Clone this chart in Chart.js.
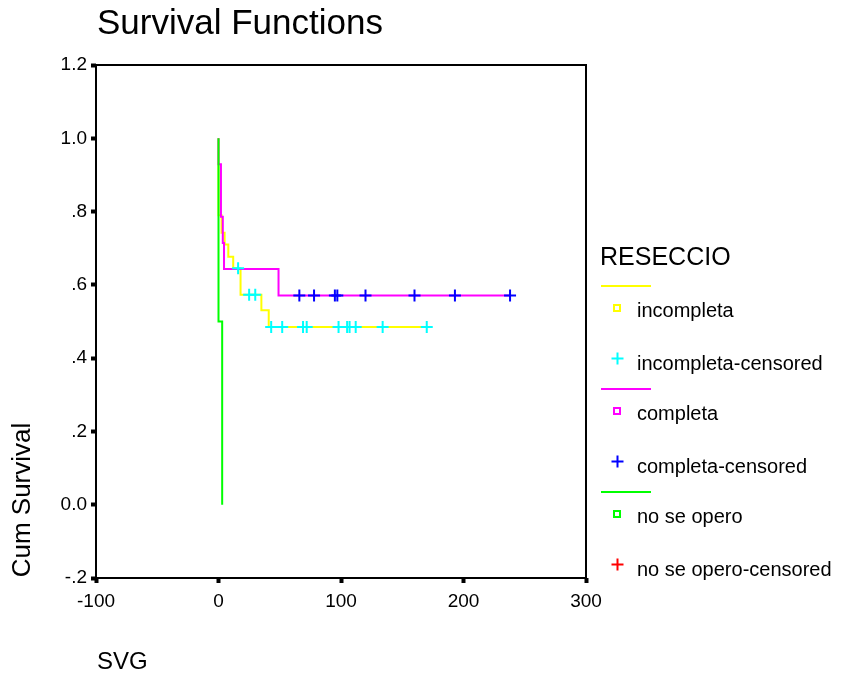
<!DOCTYPE html>
<html>
<head>
<meta charset="utf-8">
<script src="https://cdn.jsdelivr.net/npm/chart.js@4.4.0/dist/chart.umd.min.js"></script>
<style>
  body { margin: 0; background: #fff; }
  canvas { display: block; }
</style>
</head>
<body>
<canvas id="survivalChart" width="843" height="677"></canvas>
<script>
// Kaplan-Meier steps per RESECCIO group: time (SVG) and cumulative survival
const groupNames = ['incompleta', 'completa', 'no se opero'];

const incompletaTimes = [0, 0, 2.5, 5, 8, 12, 18, 35, 41, 170];
const incompletaSurv = [1, 0.79, 0.742, 0.71, 0.677, 0.645, 0.573, 0.531, 0.485, 0.485];
const incompletaCensTimes = [16, 25, 30, 43, 52, 69, 72, 98, 105, 107, 112, 134, 170];
const incompletaCensSurv = [0.645, 0.573, 0.573, 0.485, 0.485, 0.485, 0.485, 0.485, 0.485, 0.485, 0.485, 0.485, 0.485];

const completaTimes = [0, 0, 2, 2, 3.5, 4.5, 49, 238];
const completaSurv = [1, 0.929, 0.857, 0.786, 0.714, 0.643, 0.571, 0.571];
const completaCensTimes = [66, 78, 95, 97, 120, 160, 193, 238];
const completaCensSurv = [0.571, 0.571, 0.571, 0.571, 0.571, 0.571, 0.571, 0.571];

const noOperoTimes = [0, 0, 3];
const noOperoSurv = [1, 0.5, 0];
const noOperoCensTimes = [];
const noOperoCensSurv = [];

const xTickLabels = ['-100', '0', '100', '200', '300'];
const yTickLabels = ['-.2', '0.0', '.2', '.4', '.6', '.8', '1.0', '1.2'];

const lineColors = ['#ffff00', '#ff00ff', '#00ff00'];
const censColors = ['#00ffff', '#0000ff', '#ff0000'];
const FONT = '"Liberation Sans", Arial, sans-serif';

function toPoints(xs, ys) {
    return xs.map((x, i) => ({ x: x, y: ys[i] }));
}

function stepSet(label, xs, ys, color, order) {
    return {
        label: label,
        data: toPoints(xs, ys),
        showLine: true,
        stepped: 'before',
        borderColor: color,
        borderWidth: 2,
        pointRadius: 0,
        fill: false,
        order: order
    };
}

function censSet(label, xs, ys, color) {
    return {
        label: label + '-censored',
        data: toPoints(xs, ys),
        showLine: false,
        pointStyle: 'cross',
        pointRadius: 6,
        pointBorderWidth: 2,
        borderColor: color,
        backgroundColor: color,
        order: 0
    };
}

// frame around the plot, axis titles and the group legend
const decorPlugin = {
    id: 'survivalDecor',
    beforeDatasetsDraw(chart) {
        const { ctx, chartArea: a } = chart;
        ctx.save();
        ctx.strokeStyle = '#000';
        ctx.lineWidth = 2;
        ctx.strokeRect(a.left, a.top, a.right - a.left, a.bottom - a.top);
        ctx.restore();
    },
    afterDraw(chart) {
        const ctx = chart.ctx;
        ctx.save();
        ctx.fillStyle = '#000';
        ctx.textAlign = 'left';
        ctx.textBaseline = 'alphabetic';

        ctx.font = '35px ' + FONT;
        ctx.fillText('Survival Functions', 97, 34);

        ctx.font = '24px ' + FONT;
        ctx.fillText('SVG', 97, 669);

        ctx.save();
        ctx.translate(30, 500);
        ctx.rotate(-Math.PI / 2);
        ctx.textAlign = 'center';
        ctx.font = '26px ' + FONT;
        ctx.fillText('Cum Survival', 0, 0);
        ctx.restore();

        ctx.font = '25px ' + FONT;
        ctx.fillText('RESECCIO', 600, 265);

        ctx.font = '20px ' + FONT;
        groupNames.forEach((name, g) => {
            const base = g * 103;
            // line sample
            ctx.strokeStyle = lineColors[g];
            ctx.lineWidth = 2;
            ctx.beginPath();
            ctx.moveTo(601, 286 + base);
            ctx.lineTo(651, 286 + base);
            ctx.stroke();
            // square sample
            ctx.strokeRect(614, 305 + base, 6, 6);
            ctx.fillStyle = '#000';
            ctx.fillText(name, 637, 317 + base);
            // censored cross
            ctx.strokeStyle = censColors[g];
            ctx.beginPath();
            ctx.moveTo(611.5, 358.5 + base);
            ctx.lineTo(623.5, 358.5 + base);
            ctx.moveTo(617.5, 352.5 + base);
            ctx.lineTo(617.5, 364.5 + base);
            ctx.stroke();
            ctx.fillText(name + '-censored', 637, 370 + base);
        });
        ctx.restore();
    }
};

const ctx = document.getElementById('survivalChart').getContext('2d');
const survivalChart = new Chart(ctx, {
    type: 'scatter',
    data: {
        datasets: [
            stepSet(groupNames[0], incompletaTimes, incompletaSurv, lineColors[0], 3),
            censSet(groupNames[0], incompletaCensTimes, incompletaCensSurv, censColors[0]),
            stepSet(groupNames[1], completaTimes, completaSurv, lineColors[1], 2),
            censSet(groupNames[1], completaCensTimes, completaCensSurv, censColors[1]),
            stepSet(groupNames[2], noOperoTimes, noOperoSurv, lineColors[2], 1),
            censSet(groupNames[2], noOperoCensTimes, noOperoCensSurv, censColors[2])
        ]
    },
    options: {
        responsive: false,
        devicePixelRatio: 1,
        animation: false,
        layout: { padding: { top: 65, right: 257, left: 0, bottom: 0 } },
        plugins: {
            legend: { display: false },
            title: { display: false },
            tooltip: { enabled: false }
        },
        scales: {
            x: {
                type: 'linear',
                min: -100,
                max: 300,
                afterFit: s => { s.height = 99; },
                border: { display: false },
                grid: { drawOnChartArea: false, drawTicks: true, tickLength: 5, tickWidth: 4, tickColor: '#000' },
                ticks: {
                    stepSize: 100,
                    padding: 7,
                    color: '#000',
                    font: { family: FONT, size: 19 },
                    maxRotation: 0,
                    callback: (v, i) => xTickLabels[i]
                }
            },
            y: {
                type: 'linear',
                min: -0.2,
                max: 1.2,
                afterFit: s => { s.width = 96; },
                border: { display: false },
                grid: { drawOnChartArea: false, drawTicks: true, tickLength: 5, tickWidth: 4, tickColor: '#000' },
                ticks: {
                    stepSize: 0.2,
                    padding: 4,
                    color: '#000',
                    font: { family: FONT, size: 19 },
                    callback: (v, i) => yTickLabels[i]
                }
            }
        }
    },
    plugins: [decorPlugin]
});
</script>
</body>
</html>
